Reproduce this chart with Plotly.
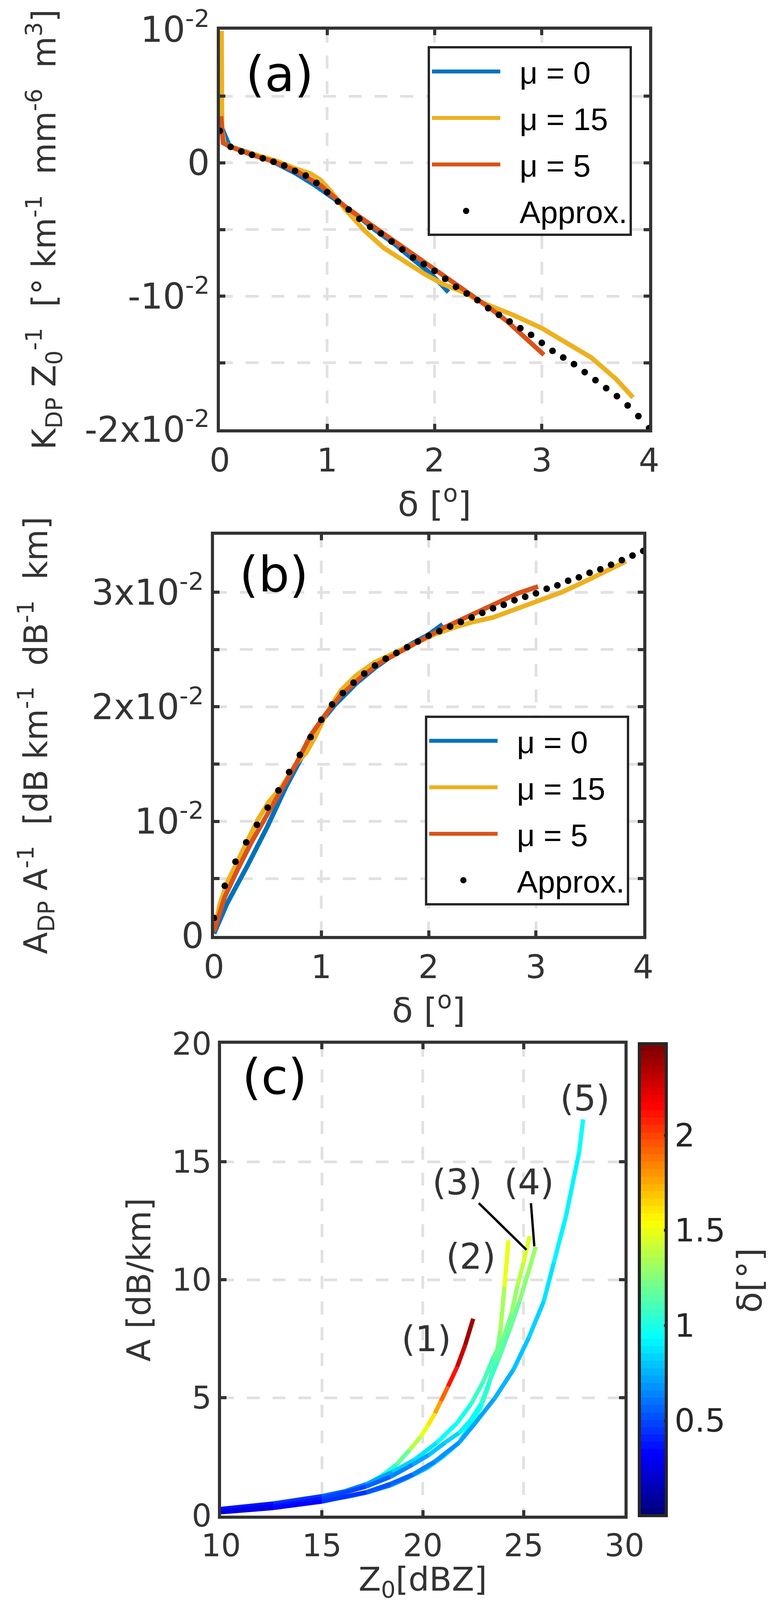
import plotly.graph_objects as go

# ---- panel (a): KDP / Z0 versus delta ----
a_delta_mu0 = [0.01, 0.02, 0.09, 0.21, 0.39, 0.53, 0.71, 0.89, 1.08, 1.26, 1.44, 1.63, 1.81, 1.95, 2.06, 2.13]
a_val_mu0 = [0.0045, 0.0026, 0.00124, 0.0009, 0.00046, -0.00005, -0.0008, -0.0017, -0.0028, -0.0038,
             -0.0050, -0.0061, -0.0073, -0.0082, -0.0091, -0.0097]
a_delta_mu15 = [0.015, 0.02, 0.04, 0.09, 0.21, 0.39, 0.53, 0.71, 0.85, 0.94, 1.03, 1.17, 1.35, 1.53, 1.72,
                1.90, 2.08, 2.27, 2.45, 2.73, 3.0, 3.23, 3.46, 3.69, 3.85]
a_val_mu15 = [0.0099, 0.0025, 0.0015, 0.00124, 0.0009, 0.00046, 0.00013, -0.00044, -0.00083, -0.0013,
              -0.0021, -0.0035, -0.0051, -0.0064, -0.0074, -0.0083, -0.0091, -0.0097, -0.0105, -0.0114,
              -0.0124, -0.0135, -0.0146, -0.0162, -0.0176]
a_delta_mu5 = [0.01, 0.03, 0.1, 0.3, 0.5, 0.71, 0.94, 1.17, 1.40, 1.63, 1.86, 2.08, 2.31, 2.50, 2.68, 2.86, 3.02]
a_val_mu5 = [0.0035, 0.0015, 0.0012, 0.0006, 0.0001, -0.0006, -0.0017, -0.0033, -0.0046, -0.0059, -0.0071,
             -0.0084, -0.0097, -0.0108, -0.0119, -0.0132, -0.0144]
approx_delta = [i / 10 for i in range(41)]
a_val_approx = [0.0024, 0.0012, 0.00085, 0.0006, 0.00034, 0.00008, -0.0002, -0.0006, -0.00095, -0.0015,
                -0.0022, -0.0029, -0.0035, -0.0042, -0.0048, -0.0053, -0.0059, -0.0065, -0.0071, -0.0076,
                -0.0081, -0.0087, -0.0093, -0.0098, -0.0103, -0.0109, -0.0114, -0.0119, -0.0124, -0.0129,
                -0.0135, -0.0141, -0.0146, -0.0151, -0.0157, -0.0163, -0.0169, -0.0175, -0.0182, -0.0190,
                -0.0199]
a_ticks = [-0.02, -0.01, 0, 0.01]
a_ticktext = ["-2x10<sup>-2</sup>", "-10<sup>-2</sup>", "0", "10<sup>-2</sup>"]

# ---- panel (b): ADP / A versus delta ----
b_delta_mu0 = [0.0, 0.12, 0.31, 0.49, 0.67, 0.81, 0.99, 1.13, 1.32, 1.50, 1.68, 1.86, 2.0, 2.13]
b_val_mu0 = [0.0002, 0.0028, 0.0061, 0.0094, 0.0130, 0.0154, 0.0186, 0.0202, 0.0220, 0.0234, 0.0246,
             0.0256, 0.0263, 0.0272]
b_delta_mu15 = [0.0, 0.055, 0.12, 0.22, 0.31, 0.40, 0.51, 0.63, 0.77, 0.86, 0.95, 1.04, 1.18, 1.32, 1.50,
                1.68, 1.86, 2.05, 2.23, 2.41, 2.60, 2.78, 3.01, 3.24, 3.47, 3.70, 3.84]
b_val_mu15 = [0.0004, 0.0028, 0.0046, 0.0065, 0.0083, 0.0100, 0.0117, 0.0130, 0.0151, 0.0160, 0.0175,
              0.0193, 0.0214, 0.0227, 0.0239, 0.0247, 0.0255, 0.0263, 0.0269, 0.0274, 0.0278, 0.0284,
              0.0292, 0.0300, 0.0310, 0.0320, 0.0327]
b_delta_mu5 = [0.0, 0.10, 0.22, 0.35, 0.49, 0.63, 0.77, 0.90, 1.02, 1.18, 1.36, 1.54, 1.73, 1.91, 2.14,
               2.37, 2.60, 2.83, 3.02]
b_val_mu5 = [0.0004, 0.0034, 0.0058, 0.0082, 0.0105, 0.0127, 0.0151, 0.0175, 0.0191, 0.0210, 0.0225,
             0.0238, 0.0248, 0.0258, 0.0269, 0.0279, 0.0289, 0.0299, 0.0305]
b_val_approx = [0.00157, 0.00437, 0.00648, 0.00816, 0.0097, 0.0112, 0.0127, 0.0143, 0.0158, 0.01735,
                0.01886, 0.0202, 0.0212, 0.0221, 0.0229, 0.0236, 0.0242, 0.0247, 0.0252, 0.0257, 0.0262,
                0.0266, 0.0270, 0.0274, 0.0278, 0.0282, 0.0286, 0.0289, 0.0293, 0.0296, 0.0299, 0.0303,
                0.0306, 0.0310, 0.0313, 0.0317, 0.0320, 0.0324, 0.0328, 0.0332, 0.0336]
b_ticks = [0, 0.01, 0.02, 0.03]
b_ticktext = ["0", "10<sup>-2</sup>", "2x10<sup>-2</sup>", "3x10<sup>-2</sup>"]

series_names = ["μ = 0", "μ = 15", "μ = 5", "Approx."]
series_colors = ["#0072BD", "#EDB120", "#D95319", "black"]

# ---- panel (c): A versus Z0, coloured by delta ----
c_labels = ["(1)", "(2)", "(3)", "(4)", "(5)"]
c_z = [
    [10.0, 12.7, 15.0, 16.1, 17.2, 17.9, 18.7, 19.35, 19.9, 20.25, 20.6, 20.9, 21.25, 21.7, 22.1, 22.5],
    [10.0, 12.6, 15.0, 16.3, 17.2, 18.4, 19.35, 20.3, 21.1, 21.8, 22.5, 22.9, 23.25, 23.65, 23.85, 24.05, 24.25],
    [10.0, 12.6, 15.0, 16.1, 17.2, 18.5, 19.6, 20.7, 21.7, 22.4, 23.0, 23.5, 24.0, 24.4, 24.7, 25.0, 25.3],
    [10.0, 12.6, 15.0, 17.2, 18.4, 19.5, 20.3, 21.1, 21.8, 22.35, 22.9, 23.3, 23.7, 24.25, 24.8, 25.2, 25.6],
    [10.0, 12.6, 15.0, 17.2, 18.4, 19.5, 20.6, 21.8, 22.6, 23.55, 24.5, 25.25, 26.0, 26.5, 27.1, 27.75, 27.95],
]
c_a = [
    [0.26, 0.52, 0.80, 0.98, 1.32, 1.65, 2.17, 2.79, 3.36, 3.82, 4.34, 4.86, 5.48, 6.30, 7.23, 8.35],
    [0.19, 0.36, 0.62, 0.82, 0.98, 1.29, 1.65, 2.07, 2.58, 3.10, 4.03, 4.65, 5.48, 6.82, 7.85, 9.70, 11.67],
    [0.29, 0.52, 0.83, 1.03, 1.34, 1.86, 2.38, 3.10, 3.93, 4.75, 5.68, 6.71, 7.54, 8.57, 9.76, 10.74, 11.85],
    [0.21, 0.41, 0.72, 1.24, 1.65, 2.17, 2.58, 3.10, 3.51, 4.03, 4.75, 5.68, 6.51, 7.75, 9.09, 10.23, 11.40],
    [0.15, 0.33, 0.60, 1.00, 1.35, 1.75, 2.30, 3.10, 3.93, 4.96, 6.20, 7.54, 9.09, 10.74, 12.7, 15.4, 16.8],
]
c_delta = [
    [0.30, 0.40, 0.55, 0.65, 0.85, 0.95, 1.10, 1.30, 1.45, 1.55, 1.70, 1.85, 2.00, 2.20, 2.35, 2.45],
    [0.25, 0.33, 0.45, 0.52, 0.58, 0.65, 0.72, 0.80, 0.87, 0.93, 1.00, 1.05, 1.12, 1.20, 1.28, 1.42, 1.55],
    [0.30, 0.40, 0.52, 0.60, 0.68, 0.78, 0.85, 0.92, 0.97, 1.02, 1.08, 1.15, 1.20, 1.25, 1.32, 1.40, 1.48],
    [0.25, 0.33, 0.42, 0.52, 0.60, 0.68, 0.75, 0.82, 0.88, 0.93, 0.98, 1.05, 1.10, 1.17, 1.22, 1.27, 1.33],
    [0.20, 0.28, 0.38, 0.48, 0.55, 0.60, 0.65, 0.70, 0.72, 0.75, 0.78, 0.82, 0.85, 0.88, 0.91, 0.94, 0.95],
]
# label centre, and (for labels with a leader line) the point on the curve it points at
c_label_pos = [(20.18, 7.5), (22.39, 10.99), (21.71, 14.14), (25.28, 14.14), (28.04, 17.7)]
c_label_tip = [None, None, (25.14, 11.27), (25.53, 11.42), None]
delta_min, delta_max = 0.0, 2.48
cbar_ticks = [0.5, 1, 1.5, 2]

DARK = "#333333"
GRID = "#e1e1e1"
FONT = "DejaVu Sans"
N_LEV = 64
NB = "\u00a0"


def jet(t):
    # MATLAB style jet
    r = min(max(1.5 - abs(4 * t - 3), 0), 1)
    g = min(max(1.5 - abs(4 * t - 2), 0), 1)
    b = min(max(1.5 - abs(4 * t - 1), 0), 1)
    return "rgb(%d,%d,%d)" % (round(255 * r), round(255 * g), round(255 * b))


def jet_level(v):
    t = (v - delta_min) / (delta_max - delta_min)
    k = min(max(int(t * N_LEV), 0), N_LEV - 1)
    return jet(k / (N_LEV - 1))


jet_scale = []
for k in range(N_LEV):
    c = jet(k / (N_LEV - 1))
    jet_scale.append([k / N_LEV, c])
    jet_scale.append([(k + 1) / N_LEV, c])

fig = go.Figure()

# panels (a) and (b)
panels = [
    ("x", "y", "legend", [(a_delta_mu0, a_val_mu0), (a_delta_mu15, a_val_mu15), (a_delta_mu5, a_val_mu5)],
     a_val_approx),
    ("x2", "y2", "legend2", [(b_delta_mu0, b_val_mu0), (b_delta_mu15, b_val_mu15), (b_delta_mu5, b_val_mu5)],
     b_val_approx),
]
for xa, ya, lg, sets, approx in panels:
    for (xs, ys), name, col in zip(sets, series_names, series_colors):
        fig.add_trace(go.Scatter(x=xs, y=ys, mode="lines", name=NB * 2 + name, legendgroup=name + xa,
                                 line=dict(color=col, width=12), xaxis=xa, yaxis=ya, legend=lg))
    fig.add_trace(go.Scatter(x=approx_delta, y=approx, mode="markers", name=NB * 2 + series_names[3],
                             legendgroup=series_names[3] + xa, marker=dict(color="black", size=17),
                             xaxis=xa, yaxis=ya, legend=lg))

# panel (c): each segment gets its colour from the jet scale
for zs, As, ds in zip(c_z, c_a, c_delta):
    for j in range(len(zs) - 1):
        col = jet_level((ds[j] + ds[j + 1]) / 2)
        fig.add_trace(go.Scatter(x=zs[j:j + 2], y=As[j:j + 2], mode="lines", showlegend=False,
                                 line=dict(color=col, width=11), xaxis="x3", yaxis="y3"))

# colour bar carrier
fig.add_trace(go.Scatter(
    x=c_z[0][:1], y=c_a[0][:1], mode="markers", showlegend=False, xaxis="x3", yaxis="y3",
    marker=dict(size=0.1, opacity=0, color=c_delta[0][:1], cmin=delta_min, cmax=delta_max,
                colorscale=jet_scale, showscale=True,
                colorbar=dict(x=1629 / 1969, xanchor="left", xpad=0, y=0.2021, yanchor="middle",
                              len=0.295, lenmode="fraction", ypad=0, thickness=69,
                              outlinewidth=8, outlinecolor="#262626",
                              tickvals=cbar_ticks, ticks="inside", ticklen=10, tickwidth=7,
                              tickcolor="#262626",
                              tickfont=dict(family=FONT, size=82, color="#262626"))),
))


def axis_style(tick_size, minor_dtick=None):
    d = dict(showline=True, linecolor=DARK, linewidth=8, mirror="ticks", ticks="inside",
             ticklen=14, tickwidth=8, tickcolor=DARK, showgrid=True, gridcolor=GRID,
             gridwidth=7, griddash="33px,33px", zeroline=False, automargin=False,
             tickfont=dict(family=FONT, size=tick_size, color=DARK))
    if minor_dtick:
        d["minor"] = dict(dtick=minor_dtick, tick0=0, showgrid=True, gridcolor=GRID, gridwidth=7,
                          griddash="33px,33px", ticks="inside", ticklen=14, tickwidth=8, tickcolor=DARK)
    return d


def tfont(size):
    return dict(family=FONT, size=size, color=DARK)


delta_title = "δ [<sup>o</sup>]"
kdp_title = ("K<sub>DP</sub> Z<sub>0</sub><sup>-1</sup>" + NB + " [° km<sup>-1</sup>" + NB +
             " mm<sup>-6</sup>" + NB + " m<sup>3</sup>]")
adp_title = ("A<sub>DP</sub> A<sup>-1</sup>" + NB + " [dB km<sup>-1</sup>" + NB + " dB<sup>-1</sup>" +
             NB + " km]")

fig.update_layout(
    width=1969, margin=dict(l=0, r=0, t=0, b=0),
    paper_bgcolor="white", plot_bgcolor="white",
    xaxis=dict(axis_style(83), domain=[555 / 1969, 1654 / 1969], range=[0, 4], tickvals=[0, 1, 2, 3, 4],
               anchor="y", title=dict(text=delta_title, font=tfont(88), standoff=24)),
    yaxis=dict(axis_style(90, 0.005), domain=[1 - 1225 / 4597, 1 - 76 / 4597], range=[-0.02, 0.01],
               tickvals=a_ticks, ticktext=a_ticktext, anchor="x",
               title=dict(text=kdp_title, font=tfont(83), standoff=50)),
    xaxis2=dict(axis_style(83), domain=[540 / 1969, 1639 / 1969], range=[0, 4], tickvals=[0, 1, 2, 3, 4],
                anchor="y2", title=dict(text=delta_title, font=tfont(88), standoff=22)),
    yaxis2=dict(axis_style(90, 0.005), domain=[1 - 2680 / 4597, 1 - 1528 / 4597], range=[0, 0.035],
                tickvals=b_ticks, ticktext=b_ticktext, anchor="x2",
                title=dict(text=adp_title, font=tfont(83), standoff=88)),
    xaxis3=dict(axis_style(80), domain=[558 / 1969, 1591 / 1969], range=[10, 30],
                tickvals=[10, 15, 20, 25, 30], anchor="y3",
                title=dict(text="Z<sub>0</sub>[dBZ]", font=tfont(84), standoff=4)),
    yaxis3=dict(axis_style(80), domain=[1 - 4346 / 4597, 1 - 2990 / 4597], range=[0, 20],
                tickvals=[0, 5, 10, 15, 20], anchor="x3",
                title=dict(text="A [dB/km]", font=tfont(84), standoff=30)),
    legend=dict(x=1087 / 1969, y=1 - 124 / 4597, xanchor="left", yanchor="top",
                bordercolor="#262626", borderwidth=6, bgcolor="white", tracegroupgap=12,
                itemwidth=175, font=dict(family="Liberation Sans", size=80, color="black")),
    legend2=dict(x=1080 / 1969, y=1 - 2047 / 4597, xanchor="left", yanchor="top",
                 bordercolor="#262626", borderwidth=6, bgcolor="white", tracegroupgap=12,
                 itemwidth=175, font=dict(family="Liberation Sans", size=80, color="black")),
)

# panel letters
for txt, xr, yr, xv, yv in [("(a)", "x domain", "y domain", 0.139, 0.889),
                            ("(b)", "x2 domain", "y2 domain", 0.140, 0.902),
                            ("(c)", "x3 domain", "y3 domain", 0.133, 0.93)]:
    fig.add_annotation(text=txt, xref=xr, yref=yr, x=xv, y=yv, showarrow=False,
                       xanchor="center", yanchor="middle",
                       font=dict(family=FONT, size=125, color="black"))

# curve labels in panel (c), (3) and (4) with a leader line
for txt, (zx, ay), tip in zip(c_labels, c_label_pos, c_label_tip):
    if tip is None:
        fig.add_annotation(text=txt, xref="x3", yref="y3", x=zx, y=ay, showarrow=False,
                           xanchor="center", yanchor="middle", font=tfont(90))
    else:
        fig.add_annotation(text=txt, xref="x3", yref="y3", x=tip[0], y=tip[1], axref="x3", ayref="y3",
                           ax=zx, ay=ay, showarrow=True, arrowhead=0, arrowwidth=6, arrowcolor="black",
                           standoff=0, font=tfont(90))

fig.add_annotation(text="δ[°]", xref="paper", yref="paper", x=1911 / 1969, y=1 - 3670 / 4597,
                   textangle=-90, showarrow=False, xanchor="center", yanchor="middle", font=tfont(88))

# height follows the browser window so the whole figure is photographed
fig.write_html("out.html", default_height="100vh")
